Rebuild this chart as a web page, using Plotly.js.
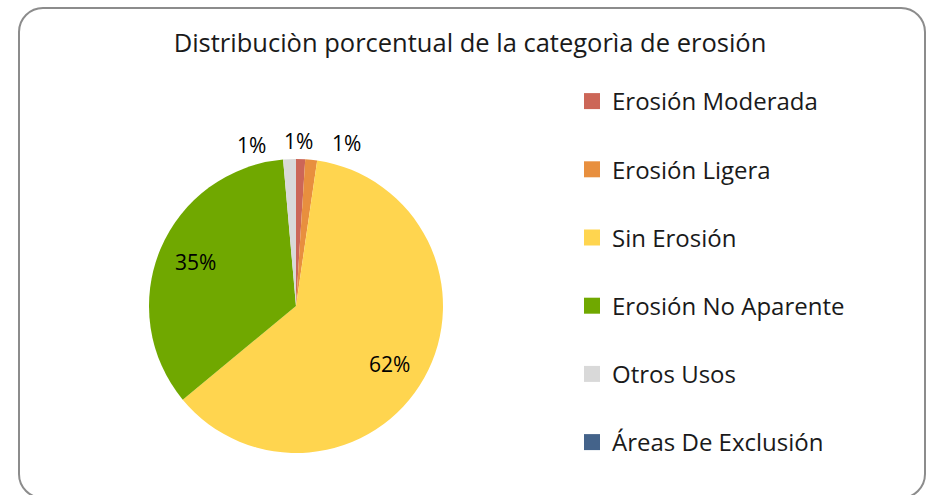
<!DOCTYPE html>
<html>
<head>
<meta charset="utf-8">
<script src="https://cdn.plot.ly/plotly-3.0.1.min.js"></script>
<style>
  html, body { margin: 0; padding: 0; background: #ffffff; }
  #wrap { position: relative; width: 926px; height: 495px; overflow: hidden; }
  #frame { position: absolute; left: 18px; top: 7px; width: 908px; height: 492px;
           border: 2px solid #8c8c8c; border-radius: 25px; box-sizing: border-box; }
  #chart { position: absolute; left: 0; top: 0; width: 926px; height: 495px; }
</style>
</head>
<body>
<div id="wrap">
  <div id="frame"></div>
  <div id="chart"></div>
</div>
<script>
const chartTitle = 'Distribuciòn porcentual de la categorìa de erosión';
const categories = ['Erosión Moderada', 'Erosión Ligera', 'Sin Erosión', 'Erosión No Aparente', 'Otros Usos', 'Áreas De Exclusión'];
const percentValues = [1.0, 1.3, 61.7, 34.6, 1.4, 0];
const sliceColors = ['#CC6657', '#E88F3E', '#FFD54F', '#70A800', '#D9D9D9', '#44638A'];

// label anchor points (pixels in the 926x495 canvas) for each slice's percentage label; null = no label
const labelAnchors = [[298, 141], [346, 143], [389, 364], [195, 262], [251, 145], null];

const FONT = '"Open Sans", "Noto Sans", sans-serif';
const W = 926, H = 495;

const total = percentValues.reduce((a, b) => a + b, 0);

const pie = {
  type: 'pie',
  labels: categories,
  values: percentValues,
  marker: { colors: sliceColors, line: { width: 0 } },
  sort: false,
  direction: 'clockwise',
  rotation: 0,
  textinfo: 'none',
  showlegend: false,
  hoverinfo: 'label+percent',
  domain: { x: [(296 - 147) / W, (296 + 147) / W], y: [(189 - 147) / H, (189 + 147) / H] }
};

const legendTraces = categories.map((c, i) => ({
  type: 'scatter',
  mode: 'markers',
  x: [null], y: [null],
  name: c,
  legendgroup: 'g' + i,
  marker: { symbol: 'square', size: 16, color: sliceColors[i] },
  showlegend: true,
  hoverinfo: 'skip'
}));

const annotations = [];
percentValues.forEach((v, i) => {
  const a = labelAnchors[i];
  if (!a) return;
  annotations.push({
    xref: 'paper', yref: 'paper',
    x: a[0] / W, y: 1 - a[1] / H,
    xanchor: 'center', yanchor: 'middle',
    text: Math.round(v / total * 100) + '%',
    showarrow: false,
    font: { family: FONT, size: 21, color: '#000000' }
  });
});

const layout = {
  width: W, height: H,
  margin: { l: 0, r: 0, t: 0, b: 0 },
  paper_bgcolor: 'rgba(0,0,0,0)',
  plot_bgcolor: 'rgba(0,0,0,0)',
  font: { family: FONT, color: '#000000' },
  title: { text: chartTitle, font: { family: FONT, size: 25.5, color: '#1a1a1a' }, x: 470 / W, xanchor: 'center', y: 1 - 43 / H, yanchor: 'middle' },
  xaxis: { visible: false, domain: [0.99, 1] },
  yaxis: { visible: false, domain: [0.99, 1] },
  annotations: annotations,
  showlegend: true,
  legend: {
    x: 572 / W, xanchor: 'left', y: 1 - 79 / H, yanchor: 'top',
    font: { family: FONT, size: 24, color: '#1a1a1a' },
    tracegroupgap: 34,
    itemsizing: 'trace',
    bgcolor: 'rgba(0,0,0,0)'
  }
};

Plotly.newPlot('chart', [pie].concat(legendTraces), layout, { staticPlot: true, displayModeBar: false });
</script>
</body>
</html>
